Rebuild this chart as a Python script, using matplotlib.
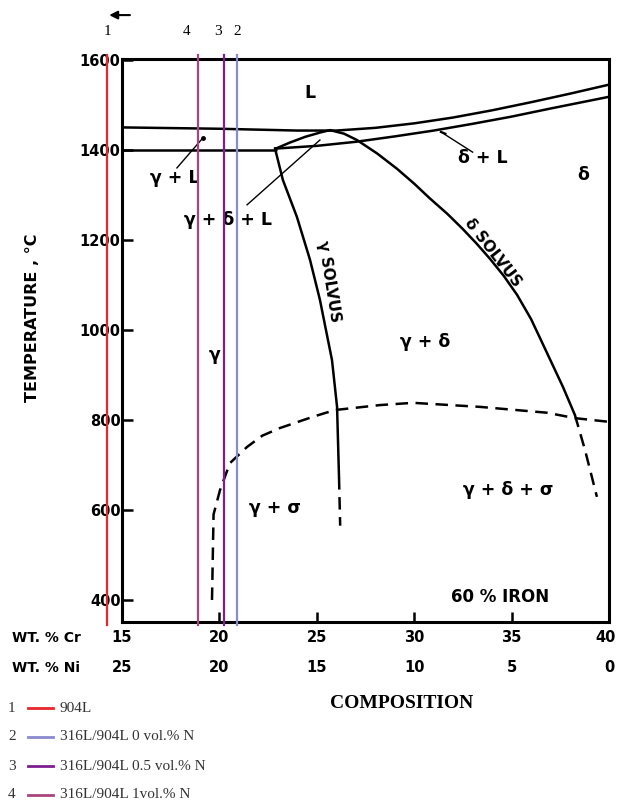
import matplotlib
matplotlib.use("Agg")
import matplotlib.pyplot as plt
from matplotlib.lines import Line2D
from matplotlib.transforms import blended_transform_factory

# phase boundaries (wt.% Cr, temperature C)
liq_cr = [15, 20, 24, 26, 28, 30, 32, 34, 36, 38, 40]
liq_t = [1450, 1447, 1443, 1443, 1449, 1459, 1472, 1488, 1506, 1525, 1545]

dsol_cr = [22.9, 25, 27, 29, 31, 33, 35, 37, 40]
dsol_t = [1403, 1409, 1418, 1430, 1443, 1458, 1474, 1492, 1518]

gsol_cr = [15, 22.9]
gsol_t = [1400, 1400]

tri_cr = [22.9, 23.6, 24.4, 25.2, 25.68]
tri_t = [1403, 1416, 1429, 1439, 1444]

gsolv_cr = [22.85, 23.26, 23.98, 24.65, 25.16, 25.78, 26.04, 26.14]
gsolv_t = [1404, 1333, 1251, 1156, 1067, 933, 829, 673]
gsolv_d_cr = [26.14, 26.2]
gsolv_d_t = [673, 565]

dsolv_cr = [25.68, 26.4, 27.06, 28.1, 29.12, 30.0, 30.81, 31.7, 32.5, 33.2, 33.89,
            34.6, 35.28, 36.0, 36.61, 37.64, 38.25]
dsolv_t = [1444, 1436, 1422, 1392, 1358, 1325, 1292, 1258, 1224, 1192, 1158,
           1120, 1078, 1024, 968, 873, 811]
dsolv_d_cr = [38.25, 38.77, 39.38]
dsolv_d_t = [811, 733, 629]

sigma_cr = [19.62, 19.65, 19.7, 20.03, 20.54, 21.42, 22.2, 23.11, 24.8, 25.93,
            28.24, 29.94, 33.38, 36.82, 38.25, 39.95]
sigma_t = [400, 470, 590, 644, 704, 740, 765, 782, 807, 822,
           833, 838, 829, 816, 804, 796]

# alloy composition lines
alloy_num = ["1", "2", "3", "4"]
alloy_names = ["904L", "316L/904L 0 vol.% N", "316L/904L 0.5 vol.% N", "316L/904L 1vol.% N"]
alloy_cr = [14.23, 20.90, 20.24, 18.90]
alloy_colors = ["#e8262c", "#8a8ad0", "#7d1f90", "#a8447f"]
alloy_label_cr = [14.23, 20.90, 19.95, 18.30]

cr_ticks = [15, 20, 25, 30, 35, 40]
ni_ticks = [25, 20, 15, 10, 5, 0]
t_ticks = [400, 600, 800, 1000, 1200, 1400, 1600]

fig = plt.figure(figsize=(6.17, 8.10), dpi=100)
ax = fig.add_axes([122 / 617, 1 - 622 / 810, 487 / 617, 563 / 810])
ax.set_xlim(15, 40)
ax.set_ylim(351, 1602)

lw = 1.8
dash = (0, (5, 3))
line = dict(color="black", lw=lw, solid_joinstyle="round", solid_capstyle="round")
ax.plot(liq_cr, liq_t, **line)
ax.plot(dsol_cr, dsol_t, **line)
ax.plot(gsol_cr, gsol_t, **line)
ax.plot(tri_cr, tri_t, **line)
ax.plot(gsolv_cr, gsolv_t, **line)
ax.plot(gsolv_d_cr, gsolv_d_t, color="black", lw=lw, ls=dash)
ax.plot(dsolv_cr, dsolv_t, **line)
ax.plot(dsolv_d_cr, dsolv_d_t, color="black", lw=lw, ls=dash)
ax.plot(sigma_cr, sigma_t, color="black", lw=lw, ls=dash)

for cr, c in zip(alloy_cr, alloy_colors):
    ax.plot([cr, cr], [344, 1611], color=c, lw=1.6, clip_on=False, zorder=5)

for s in ax.spines.values():
    s.set_linewidth(2.2)

bold = dict(fontweight="bold", family="DejaVu Sans")
ax.set_yticks(t_ticks)
ax.set_yticklabels([str(t) for t in t_ticks], fontsize=10.5, **bold)
ax.set_xticks(cr_ticks)
ax.set_xticklabels([])
ax.tick_params(axis="y", direction="in", length=8, width=1.8, pad=1)
ax.tick_params(axis="x", direction="in", length=7, width=1.8)

# phase labels
lab = dict(fontsize=12.5, ha="center", va="center", **bold)
ax.text(24.65, 1527, "L", **lab)
ax.text(17.7, 1338, "γ + L", **lab)
ax.text(20.44, 1244, "γ + δ + L", **lab)
ax.text(33.53, 1382, "δ + L", **lab)
ax.text(38.67, 1344, "δ", **lab)
ax.text(19.77, 944, "γ", **lab)
ax.text(30.55, 973, "γ + δ", **lab)
ax.text(22.85, 604, "γ + σ", **lab)
ax.text(34.8, 644, "γ + δ + σ", **lab)
ax.text(34.4, 407, "60 % IRON", fontsize=12, ha="center", va="center", **bold)
ax.text(25.63, 1107, "γ SOLVUS", fontsize=11, rotation=-81, ha="center", va="center", **bold)
ax.text(34.05, 1172, "δ SOLVUS", fontsize=11, rotation=-52, ha="center", va="center", **bold)

# leader lines
ax.plot([17.82, 19.16], [1360, 1427], color="black", lw=1)
ax.plot([19.16], [1427], "o", color="black", ms=2.5)
ax.plot([21.42, 25.16], [1278, 1422], color="black", lw=1)
ax.plot([33.0, 31.37], [1395, 1440], color="black", lw=1)
ax.plot([31.37, 31.6], [1440, 1436], color="black", lw=1.6)

# numbers and arrow above the chart
top = blended_transform_factory(ax.transData, ax.transAxes)
for n, cr in zip(alloy_num, alloy_label_cr):
    ax.text(cr, 1.048, n, transform=top, fontsize=11, family="Liberation Serif",
            ha="center", va="center", clip_on=False)
ax.annotate("", xy=(14.2, 1.078), xytext=(15.55, 1.078), xycoords=top, textcoords=top,
            arrowprops=dict(arrowstyle="-|>", color="black", lw=1.5, mutation_scale=12))

# composition rows and axis captions
bottom = blended_transform_factory(ax.transData, fig.transFigure)
for c, ni in zip(cr_ticks, ni_ticks):
    ha = "right" if c == cr_ticks[-1] else "center"
    xc = 40.33 if c == cr_ticks[-1] else c
    ax.text(xc, 1 - 638 / 810, str(c), transform=bottom, fontsize=10.5,
            ha=ha, va="center", **bold)
    ax.text(c, 1 - 668 / 810, str(ni), transform=bottom, fontsize=10.5,
            ha="center", va="center", **bold)
fig.text(12 / 617, 1 - 638 / 810, "WT. % Cr", fontsize=10, ha="left", va="center", **bold)
fig.text(12 / 617, 1 - 668 / 810, "WT. % Ni", fontsize=10, ha="left", va="center", **bold)
fig.text(402 / 617, 1 - 703 / 810, "COMPOSITION", fontsize=14, fontweight="bold",
         family="Liberation Serif", ha="center", va="center")
fig.text(33 / 617, 1 - 318 / 810, "TEMPERATURE , °C", fontsize=11.5, rotation=90,
         ha="center", va="center", **bold)

# legend
rows = [708, 737, 766, 795]
for n, name, c, y in zip(alloy_num, alloy_names, alloy_colors, rows):
    yf = 1 - y / 810
    fig.text(8 / 617, yf, n, fontsize=11, family="Liberation Serif", color="#333333",
             ha="left", va="center")
    fig.add_artist(Line2D([28 / 617, 53 / 617], [yf, yf], color=c, lw=2,
                          transform=fig.transFigure))
    fig.text(60 / 617, yf, name, fontsize=11, family="Liberation Serif", color="#333333",
             ha="left", va="center")

fig.savefig("out.png", dpi=100)
